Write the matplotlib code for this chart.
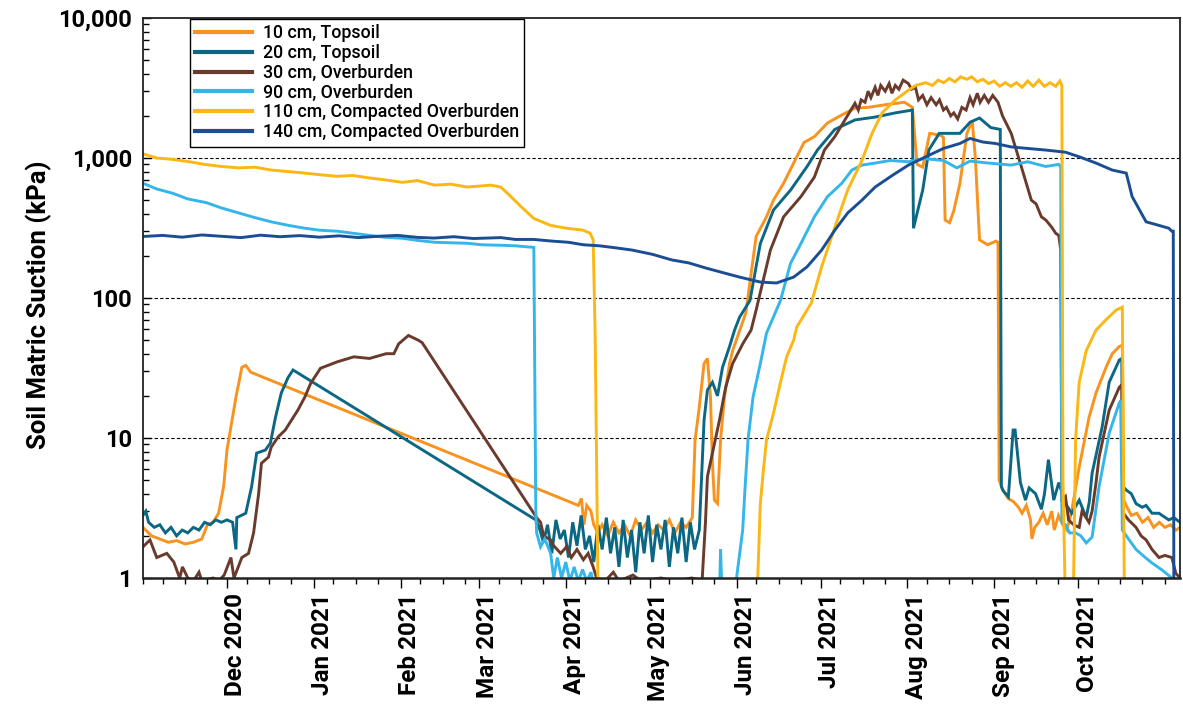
import matplotlib
matplotlib.use("Agg")
import matplotlib.pyplot as plt
import matplotlib.dates as mdates
import matplotlib.ticker as mticker
import matplotlib.transforms as mtransforms
import pandas as pd

START = "2020-11-01"

# ---- data: days since 2020-11-01, soil matric suction (kPa) ----
labels = ["10 cm, Topsoil", "20 cm, Topsoil", "30 cm, Overburden",
          "90 cm, Overburden", "110 cm, Compacted Overburden",
          "140 cm, Compacted Overburden"]
colors = ["#F7931E", "#0B6784", "#6A3A2C", "#35B6EA", "#FBB714", "#1B4D93"]
month_ticks = ["2020-12-01", "2021-01-01", "2021-02-01", "2021-03-01", "2021-04-01",
               "2021-05-01", "2021-06-01", "2021-07-01", "2021-08-01", "2021-09-01",
               "2021-10-01"]

d10 = [0, 3, 6, 9, 12, 15, 18, 21, 23, 25, 27, 28.8, 30, 31.4, 33.2, 34.2, 35.3, 36.7, 38.5,
       155.5, 156.6, 157.5, 158.5, 160, 161, 162.5, 164, 166, 168, 170, 172, 174, 176, 178, 180,
       182, 184, 186, 188, 190, 192, 194, 196.2, 197.2, 198.7, 200.4, 201.6, 202.7, 203.4, 204.1,
       205.2, 206.3, 207.7, 209.5, 210.6, 215.3, 219, 222.7, 225.2, 228.8, 232.4, 236.1, 239.8,
       244.5, 249.6, 254.3, 259, 265, 272, 274.8, 276.5, 278.5, 281, 285, 285.9, 286.5, 288.1,
       289.6, 291.8, 294.3, 296.2, 297.3, 298.8, 301.7, 304.7, 305.4, 305.8, 307, 309, 311, 312.7,
       314, 315.5, 317, 317.5, 318.5, 320, 321.5, 323, 324.6, 325.5, 327, 328.5, 330, 331.7,
       334.4, 337.9, 340.4, 344, 346.2, 348.7, 349.8, 350.3, 351.5, 353, 355, 357, 359, 361, 363,
       365, 367, 369, 370.4]
v10 = [2.3, 2.0, 1.9, 1.8, 1.85, 1.75, 1.8, 1.9, 2.4, 2.5, 2.9, 4.5, 8.2, 12, 19.6, 24.6, 32, 33, 29.5,
       3.3, 3.7, 2.4, 3.3, 3.0, 2.4, 2.1, 2.4, 2.0, 2.5, 2.1, 2.4, 2.0, 2.6, 2.2, 2.5,
       2.1, 2.4, 2.2, 2.6, 2.1, 2.5, 2.3, 2.7, 9.7, 16.6, 34, 37, 19.6, 6.6, 3.6,
       3.4, 9.7, 19.6, 34, 42, 78, 275, 380, 500, 660, 920, 1290, 1420,
       1780, 2030, 2270, 2300, 2400, 2500, 2300, 900, 860, 1500, 1450, 1400, 360, 345,
       420, 660, 1500, 1850, 1000, 260, 240, 255, 250, 5, 4.3, 3.7, 3.5, 3.2,
       2.9, 3.3, 2.6, 1.9, 2.3, 2.5, 2.9, 2.4, 3.0, 2.2, 2.8, 2.4, 2.2, 3.0,
       6.2, 14, 21, 32, 40, 45, 46, 3.6, 3.2, 2.8, 2.9, 2.5, 2.7, 2.3, 2.5,
       2.3, 2.4, 2.2, 2.3]

d20 = [0, 1, 2, 4, 6, 8, 10, 12, 14, 16, 18, 20, 22, 24, 26, 28, 30, 32, 33.2, 33.5, 36.7, 38.8,
       40.6, 43.7, 45.5, 47.3, 49.4, 51.8, 53.6, 140.3, 141.5, 143, 144.5, 146, 147.5, 149,
       150.5, 152, 153.5, 155, 156.5, 158, 159.5, 161, 162.5, 164, 165.5, 167, 168.5, 170, 171.5,
       173, 174.5, 176, 177.5, 179, 180.5, 182, 183.5, 185, 186.5, 188, 189.5, 191, 192.5, 194,
       195.5, 197, 198.7, 200.4, 201.6, 203.4, 205.2, 207, 209.5, 211.3, 213.1, 216.8, 220.5,
       225.2, 231.3, 237.2, 240.9, 247.1, 254.3, 261.5, 268.7, 274.8, 275.2, 278.5, 280.7, 284.4,
       288.1, 291.8, 295.4, 298.8, 302.8, 306.2, 306.6, 307.2, 309.1, 310.8, 311.5, 313.4, 315.2,
       316.5, 318.8, 320.9, 322, 323.4, 325.3, 327.1, 329.5, 331.7, 334.4, 336.9, 338, 339,
       342.6, 345.1, 348.7, 349.6, 350, 351.2, 353, 354.7, 356.9, 358.3, 360.4, 362.9, 364,
       366.4, 368.2, 370.4]
v20 = [2.8, 3.0, 2.5, 2.3, 2.4, 2.1, 2.3, 2.0, 2.2, 2.1, 2.3, 2.2, 2.5, 2.4, 2.6, 2.5, 2.6, 2.5, 1.6, 2.7, 2.9, 4.5,
       7.8, 8.2, 9.2, 14, 21, 27, 30.6, 2.6, 2.3, 1.8, 2.4, 1.5, 2.6, 1.9,
       2.2, 1.4, 2.5, 1.7, 2.8, 1.6, 2.0, 1.3, 2.4, 1.6, 2.7, 1.5, 2.3, 1.2, 2.6,
       1.4, 2.2, 1.1, 2.5, 1.5, 2.8, 1.3, 2.4, 1.6, 2.6, 1.2, 2.3, 1.5, 2.7, 1.3,
       2.5, 1.6, 2.2, 13.4, 22, 25, 20, 32, 45, 59, 73, 96, 245,
       425, 590, 870, 1140, 1600, 1870, 1960, 2100, 2200, 315, 590, 1140, 1500,
       1500, 1500, 1800, 1930, 1650, 1600, 4.5, 4.2, 3.8, 11.4, 11.4, 4.8, 3.6,
       4.4, 4.0, 3.1, 4.0, 7.0, 3.6, 4.8, 3.4, 2.9, 3.6, 2.7, 3.5, 5.6,
       12, 25, 36, 37, 4.5, 4.25, 4.0, 3.4, 3.2, 3.3, 2.9, 2.9, 2.8,
       2.6, 2.7, 2.5]

d30 = [0, 2.5, 4.9, 8.5, 11, 13.1, 14.1, 16, 18, 20, 21, 25, 27, 29, 31.4, 32.5, 35.3, 37.7, 39.5,
       41.3, 42.3, 44.8, 45.8, 48.3, 50.8, 55.3, 57.8, 59.9, 63.4, 69.4, 75.3, 80.9, 86.8, 89.6,
       91.3, 94.8, 98.3, 99.7, 140.6, 142, 143.1, 145.6, 146.7, 149.2, 151.3, 153, 155, 157.3,
       159, 160.8, 162, 165, 168, 170, 175, 178, 185, 190, 196, 199.7, 200.9, 201.6, 203.4, 205.9,
       208.1, 210.6, 214.2, 217.2, 219, 224.1, 228.8, 235, 239.8, 243.4, 247.1, 250.7, 254.3,
       255.5, 256.5, 257.9, 259, 260, 261.5, 262.5, 263.5, 265.1, 266.5, 267.5, 268.7, 270,
       271.5, 273.4, 274.5, 275.9, 277, 278.5, 280, 281.5, 283.3, 284.5, 285.9, 287, 288.5,
       289.6, 291, 292.5, 294, 295.4, 296.5, 298, 299, 300.5, 302, 303.5, 305.4, 307, 310.1,
       313.7, 317.3, 319, 320.9, 322.5, 324.6, 326, 327.1, 327.8, 328.2, 329.5, 330.6, 332.4,
       334.4, 335.4, 337.9, 339, 340.4, 341.5, 345.1, 348.7, 349.6, 350.2, 352, 354.7, 356.5,
       358.3, 360.4, 362.9, 365, 367.5, 368.9, 370.4]
v30 = [1.67, 1.87, 1.4, 1.5, 1.3, 1.0, 1.2, 1.0, 0.95, 1.1, 0.95, 1.0, 0.95, 1.05, 1.4, 1.0, 1.4, 1.5, 2.1,
       4.0, 6.6, 7.3, 8.6, 10.2, 11.4, 15.8, 19.6, 24.6, 31.5, 35, 38, 37, 40, 40,
       47, 54, 50, 48, 2.7, 2.5, 2.0, 1.87, 1.7, 1.5, 1.67, 1.4, 1.6, 1.35,
       1.5, 1.2, 1.0, 0.95, 1.1, 0.95, 1.05, 0.95, 1.0, 0.95, 1.0, 0.95, 2.5, 5.3, 7.8, 13.4,
       23, 34, 47, 59, 82, 220, 380, 530, 730, 1140, 1420, 1870, 2460,
       2200, 2600, 2500, 3000, 2700, 3200, 2800, 3300, 3000, 3400, 2900, 3300, 3100,
       3600, 3400, 3100, 3200, 2600, 2800, 2400, 2700, 2400, 2600, 2200, 2300, 2000,
       2100, 1900, 2300, 2200, 2700, 2400, 2900, 2500, 2800, 2500, 2800, 2500, 2000, 1500,
       870, 500, 470, 380, 360, 320, 290, 280, 220, 3.5, 3.8, 2.6, 2.4,
       2.3, 3.0, 2.5, 3.0, 4.8, 7.3, 15.8, 23, 24, 2.9, 2.6, 2.3, 2.0,
       1.87, 1.6, 1.4, 1.45, 1.4, 1.08, 1.0]

d90 = [0, 5, 10.6, 16, 22.6, 28, 34.2, 40, 45.8, 52, 57.8, 63, 69.4, 75, 80.9, 86, 92.7, 98,
       104.2, 110, 115.8, 121, 127.8, 133, 137.1, 139.6, 140.3,
       140.6, 142, 143.5, 145.6, 146.7, 148, 149.5, 151, 152.5, 154, 155.5, 157, 158.5, 160, 161,
       206, 206.3, 206.7, 211.3, 212, 214.2, 215, 216.1, 217.9, 220.5, 222.7, 227.7, 231.3, 235,
       239.8, 244.5, 249.6, 253.2, 256.8, 261.5, 267, 273.4, 279, 285.9, 290.7, 295.4, 302,
       310.1, 316, 322.4, 327.1, 327.8, 328.2, 329.5, 331, 333.1, 335, 336.9, 339, 341.5, 345.1,
       348.7, 349.2, 349.8, 352, 354.7, 358, 360.4, 364, 367.5, 370.4]
v90 = [660, 600, 560, 510, 480, 440, 405, 375, 350, 330, 315, 305, 300, 290, 280, 272, 267, 258,
       250, 248, 246, 240, 238, 236, 232, 230, 3.0,
       2.1, 1.67, 1.9, 1.5, 1.0, 1.4, 1.0, 1.3, 0.95, 1.2, 0.95, 1.15, 0.95, 1.1, 0.9,
       0.9, 1.6, 0.9, 0.9, 1.0, 2.2, 4.25, 9.7, 19.6, 34, 56, 96, 177, 245,
       380, 530, 660, 820, 890, 920, 960, 940, 990, 960, 850, 950, 920,
       890, 940, 870, 900, 860, 2.5, 2.4, 2.1, 2.1, 2.0, 1.78, 1.96, 4.5, 10.8,
       17.8, 18.5, 2.2, 1.9, 1.6, 1.4, 1.28, 1.14, 1.0, 0.95]

d110 = [0, 4.9, 10, 16.6, 22, 28, 34.2, 40, 45.8, 52, 57.8, 63, 69.4, 75, 80.9, 86, 92.7, 98,
        104.2, 110, 115.8, 120, 124.3, 127.8, 131.4, 135,
        139.6, 145.6, 151.3, 157.3, 159.7, 160.8, 161.5, 162.5, 219.5, 220.5, 221.6, 222.7, 225.2,
        227.7, 229.9, 232.4, 233.5, 238.7, 242.4, 247.1, 251.7, 256.8, 260.4, 264, 268.7, 273.4,
        276, 279.6, 282, 284, 286, 288, 290, 292, 294.3, 296, 298, 300, 302, 304, 306, 308, 310,
        312, 314, 316, 318, 320, 322, 324, 326, 327.5, 328.2, 328.6, 329.3, 331, 332.4, 333.1,
        334.4, 336.9, 340.4, 344, 347.6, 349.8, 350.5, 370.4]
v110 = [1070, 1000, 980, 940, 900, 870, 850, 860, 820, 800, 780, 760, 740, 750, 720, 700, 670, 690,
        640, 650, 620, 630, 640, 620, 530, 450,
        370, 330, 315, 305, 290, 260, 55, 0.9, 0.9, 3.4, 5.9, 9.7, 15,
        25, 38, 50, 62, 92, 167, 320, 590, 960, 1500, 2100, 2600, 3050,
        3300, 3450, 3300, 3600, 3450, 3700, 3500, 3800, 3650, 3800, 3500, 3650, 3400, 3550, 3250, 3450, 3250,
        3450, 3200, 3550, 3250, 3600, 3250, 3450, 3250, 3550, 3300, 5, 0.98, 0.98, 0.98, 9.7,
        25, 42, 59, 70, 82, 86, 0.9, 0.9]

d140 = [0, 7, 14, 21, 28, 35, 42, 49, 56, 63, 70, 77, 84, 91, 98, 104, 111, 118, 127.8, 133,
        139.6, 146, 152, 157.3, 163, 169, 174.7, 182, 188.9, 195, 200.9, 207, 213.1, 220.5, 226.3,
        232.4, 237.2, 242.4, 247.1, 251.7, 256.8, 261.5, 267.6, 273.4, 279.6, 285.9, 291.8, 295.4,
        300, 304.4, 310.1, 316, 322.4, 329.5, 334.4, 340.4, 346.2, 351.2, 353.3, 358.3, 362.9,
        366.4, 367.5, 368, 368.2]
v140 = [275, 280, 272, 282, 276, 270, 281, 274, 279, 272, 278, 270, 276, 280, 271, 268, 274, 266,
        270, 262, 262, 255, 250, 240, 236, 228, 220, 205, 187, 178, 164, 152, 141, 130, 128,
        141, 167, 220, 305, 405, 500, 620, 750, 890, 1020, 1170, 1270, 1380,
        1300, 1270, 1200, 1170, 1140, 1100, 1020, 920, 820, 780, 530, 350, 330,
        315, 300, 300, 0.9]

days = [d10, d20, d30, d90, d110, d140]
vals = [v10, v20, v30, v90, v110, v140]

ytick_vals = [1, 10, 100, 1000, 10000]
ytick_labels = ["1", "10", "100", "1,000", "10,000"]
x_start_day, x_end_day = 0, 370.4

# ---- plotting ----
plt.rcParams["font.family"] = ["Roboto", "DejaVu Sans"]
W, H = 1183, 710
fig = plt.figure(figsize=(W / 100, H / 100), dpi=100)
ax = fig.add_axes([143 / W, 1 - 578 / H, (1180 - 143) / W, (578 - 18) / H])

t0 = pd.Timestamp(START)
def to_dates(d):
    return t0 + pd.to_timedelta(d, unit="D")

for d, v, c, lab in zip(days, vals, colors, labels):
    ax.plot(to_dates(d), v, color=c, lw=2.1, label=lab, solid_joinstyle="miter")

ax.set_yscale("log")
ax.set_ylim(1, 10000)
ax.set_xlim(to_dates(x_start_day), to_dates(x_end_day))

ax.yaxis.set_major_locator(mticker.FixedLocator(ytick_vals))
ax.yaxis.set_major_formatter(mticker.FixedFormatter(ytick_labels))
ax.yaxis.set_minor_locator(mticker.LogLocator(base=10, subs=range(2, 10)))
ax.yaxis.set_minor_formatter(mticker.NullFormatter())
ax.tick_params(axis="y", which="major", direction="in", length=6, width=1, pad=8,
               labelsize=17)
ax.tick_params(axis="y", which="minor", direction="in", length=4, width=1)

ax.xaxis.set_major_locator(mticker.FixedLocator(mdates.date2num(pd.to_datetime(month_ticks))))
ax.xaxis.set_major_formatter(mdates.DateFormatter("%b %Y"))
ax.xaxis.set_minor_locator(mdates.DayLocator(bymonthday=[1, 8, 16, 24]))
ax.tick_params(axis="x", which="major", direction="out", length=7, width=1, pad=4,
               labelsize=17.5, labelrotation=90)
ax.tick_params(axis="x", which="minor", direction="out", length=4, width=1)
offset = mtransforms.ScaledTranslation(9 / 100, 0, fig.dpi_scale_trans)
for lbl in ax.get_xticklabels():
    lbl.set_fontweight("bold")
    lbl.set_transform(lbl.get_transform() + offset)
for lbl in ax.get_yticklabels():
    lbl.set_fontweight("bold")

for yv in [10, 100, 1000]:
    ax.axhline(yv, color="black", lw=0.8, ls=(0, (3, 2)), zorder=0.5)

for s in ax.spines.values():
    s.set_linewidth(1.3)
    s.set_color("#222222")
ax.spines["bottom"].set_linewidth(1.8)

ax.set_ylabel("Soil Matric Suction (kPa)", fontsize=18.5, fontweight="bold")
ax.yaxis.set_label_coords(-0.088, (578 - 305) / 560)

leg = ax.legend(loc="upper left", bbox_to_anchor=(190 / W, 1 - 19 / H),
                bbox_transform=fig.transFigure, borderaxespad=0,
                prop={"weight": "medium", "size": 12.8}, frameon=True, fancybox=False,
                edgecolor="black", framealpha=1, handlelength=3.2, handletextpad=0.6,
                labelspacing=0.1, borderpad=0.3)
leg.get_frame().set_linewidth(1.0)
for h in leg.get_lines():
    h.set_linewidth(3)

fig.savefig("out.png", dpi=100)
